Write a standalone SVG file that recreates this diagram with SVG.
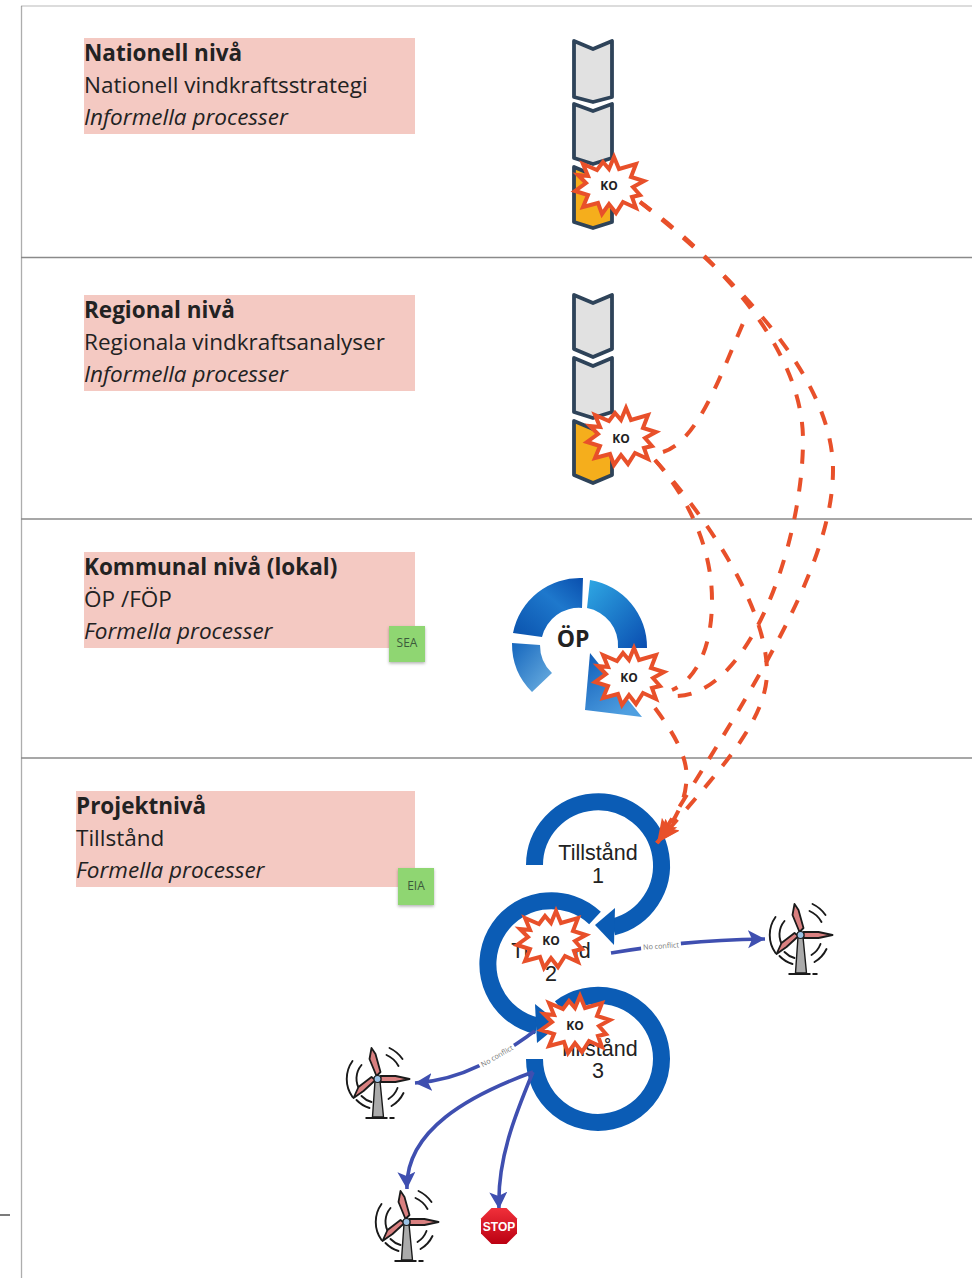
<svg xmlns="http://www.w3.org/2000/svg" width="972" height="1278" viewBox="0 0 972 1278">
<style>
text{font-family:"Open Sans","Noto Sans","DejaVu Sans",sans-serif;fill:#222}
.band{fill:#f4c9c2}
.t{font-size:22.5px}
.b{font-size:22.5px;font-weight:700}
.i{font-size:22.5px;font-style:italic}
.sep{stroke:#8a8a8a;stroke-width:1.3;fill:none}
.chev{fill:#e1e1e1;stroke:#2e4359;stroke-width:3.8;stroke-linejoin:round}
.chevo{fill:#f5ae1c;stroke:#2e4359;stroke-width:3.8;stroke-linejoin:round}
.burst{fill:#fff;stroke:#e8502a;stroke-width:4;stroke-linejoin:miter;stroke-miterlimit:6}
.ko{font-size:12px;font-weight:700;text-anchor:middle}
.dash{fill:none;stroke:#e8502a;stroke-width:4;stroke-dasharray:14 14}
.blue{fill:none;stroke:#3f4fb0;stroke-width:3.6}
.ring{fill:none;stroke:#0b5cb5;stroke-width:17}
.ah{fill:#0b5cb5}
.tl{font-family:"Liberation Sans",Arial,sans-serif;font-size:21.5px;text-anchor:middle}
.note{font-size:12px;text-anchor:middle;fill:#3c5a3c}
.nc{font-size:7.2px;text-anchor:middle;fill:#777}
.blade{fill:#d98080;stroke:#1a1a1a;stroke-width:1.8;stroke-linejoin:round}
.arc{fill:none;stroke:#1a1a1a;stroke-width:1.9;stroke-linecap:round}
</style>
<defs>
<marker id="ao" markerUnits="userSpaceOnUse" markerWidth="26" markerHeight="22" refX="24" refY="11" orient="auto"><path d="M0,2 L24,11 L0,20 L5,11 Z" fill="#e8502a"/></marker>
<marker id="ab" markerUnits="userSpaceOnUse" markerWidth="20" markerHeight="20" refX="17" refY="9" orient="auto"><path d="M0,0 L17,9 L0,18 L4,9 Z" fill="#3f4fb0"/></marker>
<linearGradient id="g1" x1="0" y1="1" x2="1" y2="0"><stop offset="0" stop-color="#0a52ad"/><stop offset="0.6" stop-color="#1e78cc"/><stop offset="1" stop-color="#0a4fae"/></linearGradient>
<linearGradient id="g2" x1="0" y1="0" x2="1" y2="1"><stop offset="0" stop-color="#2fa8e4"/><stop offset="1" stop-color="#0a4db0"/></linearGradient>
<linearGradient id="g3" x1="0" y1="0" x2="1" y2="1"><stop offset="0" stop-color="#1566bd"/><stop offset="1" stop-color="#6fb2e2"/></linearGradient>
<linearGradient id="g4" x1="0" y1="0" x2="0.6" y2="1"><stop offset="0" stop-color="#0f5cb8"/><stop offset="1" stop-color="#4f9fe0"/></linearGradient>
<linearGradient id="gs" x1="0" y1="0" x2="0" y2="1"><stop offset="0" stop-color="#f0303a"/><stop offset="1" stop-color="#bb0012"/></linearGradient>
<filter id="sh" x="-20%" y="-20%" width="140%" height="140%"><feDropShadow dx="0" dy="1.5" stdDeviation="1.5" flood-color="#000" flood-opacity="0.3"/></filter>
<polygon id="star" class="burst" points="-26,-22 -12,-16 -6,-24 0,-17 5,-29 10,-17 27,-22 22,-9 35,-5 24,1 31,9 23,11 27,22 14,16 7,27 0,18 -7,28 -11,17 -26,21 -21,9 -34,5 -23,-3 -31,-11 -21,-10"/>
<g id="turbine">
<path class="arc" d="M-25,-18 A31,31 0 0 0 -25,18 M-16,-14 A21,21 0 0 0 -17,12 M12,-31 A33,33 0 0 1 25,-20 M9,-24 A25,25 0 0 1 21,-13 M26,14 A30,30 0 0 1 14,27 M20,9 A22,22 0 0 1 11,20 M-21,21 A30,30 0 0 0 -8,29 M-16,17 A22,22 0 0 0 -6,23"/>
<path d="M-2.5,2 L2.5,2 L6,38 L-5,38 Z" fill="#ababab" stroke="#1a1a1a" stroke-width="1.4"/>
<path class="blade" d="M-1,-3 L-8,-20 L-6,-31 L-2,-25 L3,-7 Z"/>
<path class="blade" d="M3,-3 L18,-3 L32,0 L18,3 L3,3 Z"/>
<path class="blade" d="M-2,1 L-14,12 L-24,19 L-19,8 L-6,-2 Z"/>
<circle r="3.5" fill="#9cc3e6" stroke="#1a1a1a" stroke-width="1.2"/>
<path d="M-12,39 H10 M12,39 H17" stroke="#1a1a1a" stroke-width="1.8" fill="none"/>
</g>
</defs>

<g id="frame">
<path class="sep" d="M21,6 H972" stroke-opacity="0.4"/>
<path class="sep" d="M21.5,6 V1278" stroke-opacity="0.7"/>
<path class="sep" d="M21,257.5 H972 M21,519 H972 M21,758 H972"/>
<path class="sep" d="M0,1215 H10" style="stroke:#333"/>
</g>

<g id="nationell">
<rect class="band" x="84" y="38" width="331" height="96"/>
<text class="b" x="84" y="61">Nationell nivå</text>
<text class="t" x="84" y="93">Nationell vindkraftsstrategi</text>
<text class="i" x="84" y="125">Informella processer</text>
</g>
<g id="regional">
<rect class="band" x="84" y="295" width="331" height="96"/>
<text class="b" x="84" y="318">Regional nivå</text>
<text class="t" x="84" y="350">Regionala vindkraftsanalyser</text>
<text class="i" x="84" y="382">Informella processer</text>
</g>
<g id="kommunal">
<rect class="band" x="84" y="552" width="331" height="96"/>
<text class="b" x="84" y="575">Kommunal nivå (lokal)</text>
<text class="t" x="84" y="607">ÖP /FÖP</text>
<text class="i" x="84" y="639">Formella processer</text>
</g>
<g id="projekt">
<rect class="band" x="76" y="791" width="339" height="96"/>
<text class="b" x="76" y="814">Projektnivå</text>
<text class="t" x="76" y="846">Tillstånd</text>
<text class="i" x="76" y="878">Formella processer</text>
</g>
<g id="sea"><rect x="389" y="626" width="36" height="36" fill="#8fd672" filter="url(#sh)"/><text class="note" x="407" y="647">SEA</text></g>
<g id="eia"><rect x="398" y="868" width="36" height="37" fill="#8fd672" filter="url(#sh)"/><text class="note" x="416" y="890">EIA</text></g>

<g id="chevrons-nationell">
<path class="chev" d="M574,41 L593,49 L612,41 V97 L593,102 L574,97 Z"/>
<path class="chev" d="M574,104 L593,111 L612,104 V158 L593,164 L574,158 Z"/>
<path class="chevo" d="M574,167 L593,175 L612,167 V222 L593,228 L574,222 Z"/>
</g>
<g id="chevrons-regional">
<path class="chev" d="M574,295 L593,303 L612,295 V349 L593,357 L574,349 Z"/>
<path class="chev" d="M574,358 L593,366 L612,358 V412 L593,418 L574,412 Z"/>
<path class="chevo" d="M574,421 L593,429 L612,421 V475 L593,483 L574,475 Z"/>
</g>
<g id="op">
<path d="M513,633 A68,68 0 0 1 583,578 L582,608 A38,38 0 0 0 542,637 Z" fill="url(#g1)"/>
<path d="M590,580 A68,68 0 0 1 647,648 L618,648 A38,38 0 0 0 587,608 Z" fill="url(#g2)"/>
<path d="M512,643 A68,68 0 0 0 532,692 L552,673 A38,38 0 0 1 540,645 Z" fill="url(#g3)"/>
<path d="M590,653 L585,710 L642,717 Z" fill="url(#g4)"/>
<text x="573" y="647" font-size="23" font-weight="700" text-anchor="middle">ÖP</text>
</g>
<g id="tillstand1">
<path class="ring" d="M534.5,865 A63.5,63.5 0 1 1 613,927"/>
<path class="ah" d="M595,925 L615,908 L614,945 Z"/>
<text class="tl" x="598" y="860">Tillstånd</text><text class="tl" x="598" y="883">1</text>
</g>
<g id="tillstand2">
<path class="ring" d="M595,918 A63.5,63.5 0 1 0 537,1026"/>
<path class="ah" d="M560,1024 L535,1004 L537,1043 Z"/>
<text class="tl" x="551" y="958">Tillstånd</text><text class="tl" x="551" y="981">2</text>
</g>
<g id="tillstand3">
<path class="ring" d="M534.5,1059 A63.5,63.5 0 1 0 560,1008"/>
<text class="tl" x="598" y="1056">Tillstånd</text><text class="tl" x="598" y="1078">3</text>
</g>

<g id="connectors">
<path class="dash" d="M640,202 C700,245 803,340 803,440 C803,540 750,700 672,696"/>
<path class="dash" d="M640,202 C720,265 833,370 833,470 C833,570 745,700 657,843" marker-end="url(#ao)"/>
<path class="dash" d="M663,452 C700,440 722,370 748,312"/>
<path class="dash" d="M655,460 C690,500 712,550 712,600 C712,650 695,680 672,690"/>
<path class="dash" d="M655,460 C700,510 765,600 767,670 C768,720 720,770 657,843" marker-end="url(#ao)"/>
<path class="dash" d="M655,708 C675,735 690,760 686,785 C684,805 672,825 657,843" marker-end="url(#ao)"/>
<path class="blue" d="M611,953 C660,945 700,940 765,939" marker-end="url(#ab)"/>
<path class="blue" d="M535,1031 C510,1048 470,1080 415,1083" marker-end="url(#ab)"/>
<path class="blue" d="M533,1072 C470,1095 405,1130 407,1189" marker-end="url(#ab)"/>
<path class="blue" d="M533,1072 C515,1115 497,1160 499,1209" marker-end="url(#ab)"/>
<g transform="translate(661,946) rotate(-4)"><rect x="-20" y="-5" width="40" height="10" fill="#fff"/><text class="nc" x="0" y="2.5">No conflict</text></g>
<g transform="translate(497,1056) rotate(-30)"><rect x="-20" y="-5" width="40" height="10" fill="#fff"/><text class="nc" x="0" y="2.5">No conflict</text></g>
</g>

<g id="ko1"><use href="#star" x="609" y="186"/><text class="ko" x="609" y="190">KO</text></g>
<g id="ko2"><use href="#star" x="621" y="437"/><text class="ko" x="621" y="443">KO</text></g>
<g id="ko3"><use href="#star" x="629" y="677"/><text class="ko" x="629" y="682">KO</text></g>
<g id="ko4"><use href="#star" x="551" y="940"/><text class="ko" x="551" y="945">KO</text></g>
<g id="ko5"><use href="#star" x="575" y="1025"/><text class="ko" x="575" y="1030">KO</text></g>

<g id="turbine1"><use href="#turbine" x="800.5" y="935"/></g>
<g id="turbine2"><use href="#turbine" x="377.5" y="1079"/></g>
<g id="turbine3"><use href="#turbine" x="406.5" y="1222"/></g>
<g id="stop">
<polygon points="491.5,1208 506.5,1208 517,1218.5 517,1233.5 506.5,1244 491.5,1244 481,1233.5 481,1218.5" fill="url(#gs)"/>
<text x="499" y="1231" font-size="12" font-weight="700" text-anchor="middle" style="fill:#fff;font-family:'Liberation Sans',Arial,sans-serif">STOP</text>
</g>
</svg>
